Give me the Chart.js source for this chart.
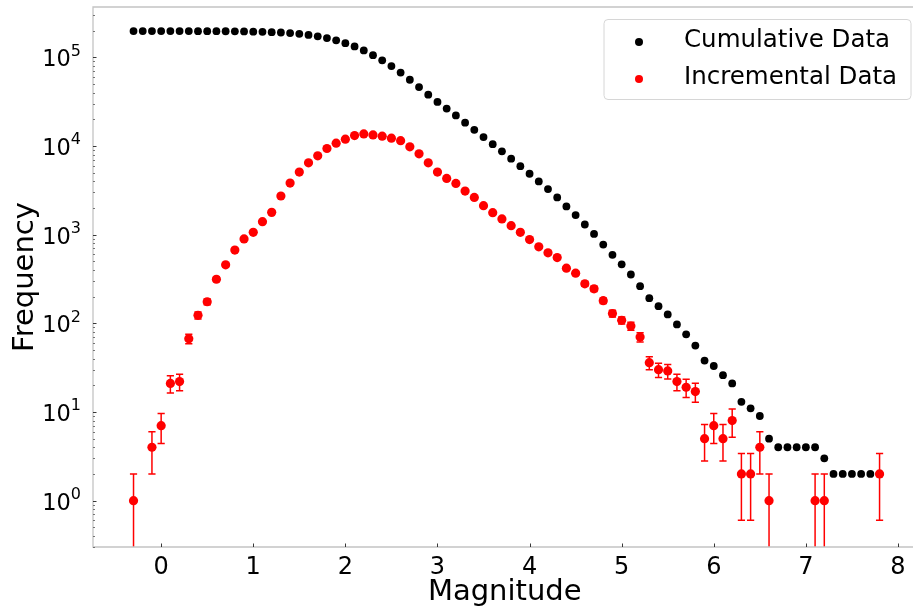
<!DOCTYPE html>
<html>
<head>
<meta charset="UTF-8">
<title>Magnitude-Frequency Distribution</title>
<script src="https://cdn.jsdelivr.net/npm/chart.js"></script>
<style>
  html, body { margin: 0; padding: 0; background: #fff; overflow: hidden; }
  #wrap { width: 913px; height: 611px; overflow: hidden; }
</style>
</head>
<body>
<div id="wrap"><canvas id="fmd" width="921" height="611"></canvas></div>
<script>
// magnitude bins (0.1 wide)
const magnitudes = [
  -0.3, -0.2, -0.1, 0.0, 0.1, 0.2, 0.3, 0.4, 0.5, 0.6, 0.7, 0.8, 0.9,
  1.0, 1.1, 1.2, 1.3, 1.4, 1.5, 1.6, 1.7, 1.8, 1.9,
  2.0, 2.1, 2.2, 2.3, 2.4, 2.5, 2.6, 2.7, 2.8, 2.9,
  3.0, 3.1, 3.2, 3.3, 3.4, 3.5, 3.6, 3.7, 3.8, 3.9,
  4.0, 4.1, 4.2, 4.3, 4.4, 4.5, 4.6, 4.7, 4.8, 4.9,
  5.0, 5.1, 5.2, 5.3, 5.4, 5.5, 5.6, 5.7, 5.8, 5.9,
  6.0, 6.1, 6.2, 6.3, 6.4, 6.5, 6.6, 6.7, 6.8, 6.9,
  7.0, 7.1, 7.2, 7.3, 7.4, 7.5, 7.6, 7.7, 7.8
];

// number of events with magnitude >= M
const cumulative = [
  197300, 197300, 197300, 197300, 197300, 197300, 197300, 197200, 197100, 196900, 196600, 196100, 195500,
  194600, 193500, 192100, 190300, 187600, 183800, 178700, 172300, 164500, 155200,
  144400, 132500, 119400, 105700, 92400, 79500, 67300, 55800, 46100, 37900,
  31400, 26400, 22100, 18300, 15200, 12600, 10460, 8690, 7190, 5920,
  4860, 3980, 3260, 2630, 2080, 1660, 1300, 1017, 772, 592,
  463, 355, 262, 192, 156, 126, 97, 75, 56, 38,
  33, 26, 21, 13, 11, 9, 5, 4, 4, 4,
  4, 4, 3, 2, 2, 2, 2, 2, 2
];

// number of events in each bin (empty bins are 0)
const incremental = [
  1, 0, 4, 7, 21, 22, 67, 123, 175, 314, 456, 670, 895,
  1062, 1400, 1782, 2725, 3815, 5074, 6456, 7740, 9360, 10740,
  11920, 13090, 13680, 13330, 12880, 12240, 11460, 9770, 8150, 6456,
  5070, 4300, 3777, 3098, 2630, 2119, 1767, 1502, 1262, 1062,
  879, 728, 623, 551, 418, 367, 279, 245, 180, 129,
  108, 93, 70, 36, 30, 29, 22, 19, 17, 5,
  7, 5, 8, 2, 2, 4, 1, 0, 0, 0,
  0, 1, 1, 0, 0, 0, 0, 0, 2
];

// half-height of the error bar on each bin
const incrementalErr = [
  1, 0, 2, 2.6, 4.6, 4.7, 8.2, 11, 13, 18, 21, 26, 30,
  33, 37, 42, 52, 62, 71, 80, 88, 97, 104,
  109, 114, 117, 115, 113, 111, 107, 99, 90, 80,
  71, 66, 61, 56, 51, 46, 42, 39, 36, 33,
  30, 27, 25, 23, 20, 19, 17, 16, 13, 11,
  10, 9.6, 8.4, 6, 5.5, 5.4, 4.7, 4.4, 4.1, 2.2,
  2.6, 2.2, 2.8, 1.4, 1.4, 2, 1, 0, 0, 0,
  0, 1, 1, 0, 0, 0, 0, 0, 1.4
];

const xTicks = [0, 1, 2, 3, 4, 5, 6, 7, 8];
const yExponents = [0, 1, 2, 3, 4, 5];

const FONT = "'DejaVu Sans', 'Liberation Sans', sans-serif";

const cumPoints = magnitudes.map((m, i) => ({ x: m, y: cumulative[i] }));
const incPoints = magnitudes.map((m, i) => ({ x: m, y: incremental[i] > 0 ? incremental[i] : null }));

// error bars, frame, tick marks, y labels with superscripts, legend box
const decorations = {
  id: 'decorations',
  beforeDatasetDraw(chart, args) {
    if (args.index !== 1) return;
    const { ctx, chartArea: a } = chart;
    const xs = chart.scales.x, ys = chart.scales.y;
    ctx.save();
    ctx.beginPath();
    ctx.rect(a.left, a.top, a.right - a.left, a.bottom - a.top);
    ctx.clip();
    ctx.strokeStyle = '#ff0000';
    ctx.lineWidth = 1.5;
    magnitudes.forEach((m, i) => {
      const v = incremental[i], e = incrementalErr[i];
      if (!(v > 0)) return;
      const px = xs.getPixelForValue(m);
      const top = ys.getPixelForValue(v + e);
      const low = v - e > 0 ? ys.getPixelForValue(v - e) : a.bottom + 5;
      ctx.beginPath();
      ctx.moveTo(px, top); ctx.lineTo(px, low);
      ctx.moveTo(px - 3.6, top); ctx.lineTo(px + 3.6, top);
      if (v - e > 0) { ctx.moveTo(px - 3.6, low); ctx.lineTo(px + 3.6, low); }
      ctx.stroke();
    });
    ctx.restore();
  },
  afterDatasetsDraw(chart) {
    const { ctx, chartArea: a } = chart;
    const xs = chart.scales.x, ys = chart.scales.y;
    ctx.save();
    // spines
    ctx.strokeStyle = '#c4c4c4';
    ctx.lineWidth = 1.3;
    ctx.beginPath();
    ctx.moveTo(a.right, a.top); ctx.lineTo(a.left, a.top);
    ctx.lineTo(a.left, a.bottom); ctx.lineTo(a.right, a.bottom);
    ctx.stroke();
    // tick marks pointing inward
    ctx.lineWidth = 0.9;
    xs.ticks.forEach(t => {
      const px = Math.round(xs.getPixelForValue(t.value)) + 0.5;
      ctx.strokeStyle = '#222';
      ctx.beginPath(); ctx.moveTo(px, a.bottom); ctx.lineTo(px, a.bottom - 3.5); ctx.stroke();
    });
    ys.ticks.forEach(t => {
      const py = Math.round(ys.getPixelForValue(t.value)) + 0.5;
      ctx.strokeStyle = t.major ? '#222' : '#666';
      ctx.beginPath(); ctx.moveTo(a.left, py); ctx.lineTo(a.left + (t.major ? 3.5 : 2), py); ctx.stroke();
    });
    // y labels: 10 with a raised exponent
    ctx.fillStyle = '#000';
    ctx.textBaseline = 'alphabetic';
    yExponents.forEach(p => {
      const py = ys.getPixelForValue(Math.pow(10, p));
      ctx.font = '22.5px ' + FONT;
      const wBase = ctx.measureText('10').width;
      ctx.font = '16px ' + FONT;
      const wExp = ctx.measureText(String(p)).width;
      const right = 81;
      ctx.font = '22.5px ' + FONT;
      ctx.textAlign = 'left';
      ctx.fillText('10', right - wExp - wBase, py + 9);
      ctx.font = '16px ' + FONT;
      ctx.fillText(String(p), right - wExp, py - 1.5);
    });
    ctx.restore();
  },
  afterDraw(chart) {
    const { ctx } = chart;
    const items = [
      { ds: chart.data.datasets[0], y: 41 },
      { ds: chart.data.datasets[1], y: 78 }
    ];
    ctx.save();
    const bx = 604, by = 19.5, bw = 307, bh = 80, r = 4;
    ctx.beginPath();
    ctx.roundRect(bx, by, bw, bh, r);
    ctx.fillStyle = 'rgba(255,255,255,0.8)';
    ctx.fill();
    ctx.strokeStyle = '#d6d6d6';
    ctx.lineWidth = 1;
    ctx.stroke();
    items.forEach(it => {
      ctx.fillStyle = it.ds.backgroundColor;
      ctx.beginPath();
      ctx.arc(639, it.y + 1, 4, 0, Math.PI * 2);
      ctx.fill();
      ctx.fillStyle = '#000';
      ctx.font = '24.5px ' + FONT;
      ctx.textAlign = 'left';
      ctx.textBaseline = 'middle';
      ctx.fillText(it.ds.label, 684, it.y);
    });
    ctx.restore();
  }
};

new Chart(document.getElementById('fmd'), {
  type: 'scatter',
  data: {
    datasets: [
      {
        label: 'Cumulative Data',
        data: cumPoints,
        backgroundColor: '#000000',
        borderWidth: 0,
        pointRadius: 3.9,
        order: 2
      },
      {
        label: 'Incremental Data',
        data: incPoints,
        backgroundColor: '#ff0000',
        borderWidth: 0,
        pointRadius: 4.6,
        order: 1
      }
    ]
  },
  options: {
    responsive: false,
    devicePixelRatio: 1,
    animation: false,
    events: [],
    layout: { padding: { top: 7, left: 0, right: 0, bottom: 0 } },
    plugins: { legend: { display: false }, tooltip: { enabled: false } },
    scales: {
      x: {
        type: 'linear',
        min: -0.74,
        max: 8.2,
        grid: { display: false },
        border: { display: false },
        afterBuildTicks: s => { s.ticks = xTicks.map(v => ({ value: v })); },
        afterFit: s => { s.height = 64; },
        ticks: {
          color: '#000',
          padding: 1,
          font: { family: FONT, size: 24, lineHeight: 1.0 },
          callback: v => String(v)
        },
        title: {
          display: true,
          text: 'Magnitude',
          color: '#000',
          font: { family: FONT, size: 29, lineHeight: 1.2 },
          padding: { top: 0, bottom: 1.5 }
        }
      },
      y: {
        type: 'logarithmic',
        min: 0.308,
        max: 3.69e5,
        grid: { display: false },
        border: { display: false },
        afterBuildTicks: s => {
          const t = [];
          for (let e = -1; e <= 5; e++) {
            for (let m = 1; m <= 9; m++) {
              const v = m * Math.pow(10, e);
              if (v >= s.min && v <= s.max) t.push({ value: v, major: m === 1 });
            }
          }
          s.ticks = t;
        },
        afterFit: s => { s.width = 93; },
        ticks: { display: false },
        title: {
          display: true,
          text: 'Frequency',
          color: '#000',
          font: { family: FONT, size: 29, lineHeight: 1.2 },
          padding: { top: 8, bottom: 0 }
        }
      }
    }
  },
  plugins: [decorations]
});
</script>
</body>
</html>
